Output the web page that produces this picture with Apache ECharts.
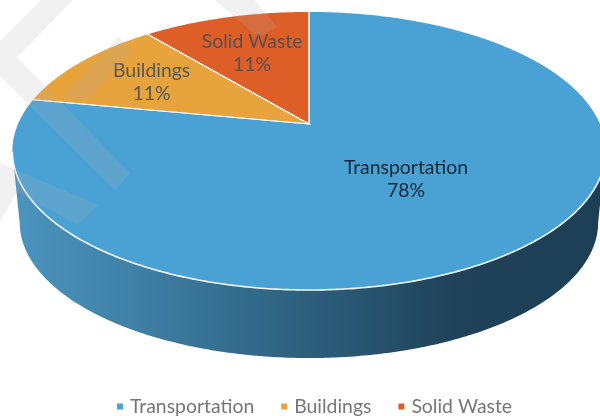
<!DOCTYPE html>
<html>
<head>
<meta charset="utf-8">
<style>html,body{margin:0;padding:0;background:#fff}#chart{width:600px;height:416px}</style>
<script src="https://cdn.jsdelivr.net/npm/echarts@6/dist/echarts.min.js"></script>
</head>
<body>
<div id="chart"></div>
<script>
// Emissions share by sector, drawn as a tilted disc
const categories = ['Transportation', 'Buildings', 'Solid Waste'];
const shares = [78, 11, 11];
const sliceColors = ['#4AA2D4', '#E7A33C', '#DE5E28'];
const labelColors = ['#14283A', '#5B5750', '#5B4F4E'];
// how far along the radius each slice's label sits
const labelReach = [0.485, 0.67, 0.645];

// Perspective projection of the unit disc onto the page
const disc = { x: 309, y: 124, wide: 291, tall: 133.8, tilt: 0.194 };
const rimDepth = { drop: 68, shrink: 0.975, midX: 306, midY: 151 };

function project(angle, reach) {
  const u = Math.sin(angle) * reach;
  const v = Math.cos(angle) * reach;
  const d = 1 + disc.tilt * v;
  return [disc.x + disc.wide * u / d, disc.y - disc.tall * v / d];
}
function lower(p) {
  return [
    rimDepth.midX + (p[0] - rimDepth.midX) * rimDepth.shrink,
    rimDepth.midY + rimDepth.drop + (p[1] - rimDepth.midY) * rimDepth.shrink + 3.5
  ];
}
function arcPoints(a0, a1) {
  const n = Math.max(2, Math.ceil((a1 - a0) / 0.01));
  const pts = [];
  for (let i = 0; i <= n; i++) pts.push(project(a0 + (a1 - a0) * i / n, 1));
  return pts;
}
const total = shares.reduce((a, b) => a + b, 0);

const sideFill = new echarts.graphic.LinearGradient(12, 0, 600, 0, [
  { offset: 0, color: '#4C95BF' },
  { offset: 0.2, color: '#3F81A7' },
  { offset: 0.4, color: '#336A8A' },
  { offset: 0.6, color: '#285470' },
  { offset: 0.75, color: '#1F4259' },
  { offset: 1, color: '#1D3F55' }
], true);

function renderSlice(idx) {
  return function (params, api) {
    const value = api.value(0);
    let before = 0;
    for (let i = 0; i < idx; i++) before += shares[i];
    const a0 = before / total * Math.PI * 2;
    const a1 = (before + value) / total * Math.PI * 2;
    const rim = arcPoints(a0, a1);
    const children = [];

    // wall below the part of the rim that faces the viewer
    const front = rim.filter(p => p[1] >= rimDepth.midY);
    if (front.length > 1) {
      const wall = front.concat(front.slice().reverse().map(lower));
      children.push({ type: 'polygon', shape: { points: wall }, style: { fill: sideFill } });
      children.push({
        type: 'polyline', shape: { points: front },
        style: { fill: null, stroke: '#F2F6F8', lineWidth: 1.6 }, z2: 3
      });
    }

    const apex = project(0, 0);
    children.push({
      type: 'polygon', shape: { points: [apex].concat(rim) },
      style: { fill: sliceColors[idx], stroke: 'none' }, z2: 1
    });
    children.push({
      type: 'polyline', shape: { points: [rim[rim.length - 1], apex, rim[0]] },
      style: { fill: null, stroke: '#EEF3F5', lineWidth: 1.1 }, z2: 2
    });

    const mid = project((a0 + a1) / 2, labelReach[idx]);
    children.push({
      type: 'text', z2: 5,
      style: {
        x: mid[0], y: mid[1] + 1.5, text: categories[idx] + '\n' + value + '%',
        fill: labelColors[idx], fontFamily: 'Lato', fontSize: 19.4, lineHeight: 23,
        align: 'center', verticalAlign: 'middle'
      }
    });
    return { type: 'group', children };
  };
}

// Pale diagonal bands laid over the whole picture
const bandStyle = { fill: 'rgba(175,175,175,0.18)' };
const bands = [
  [[0, 41], [41, 0], [73, 0], [17, 57], [130, 173], [115, 190], [0, 76]],
  [[0, 163], [98, 205], [78, 225], [17, 192], [0, 222]],
  [[215, 0], [255, 0], [277, 27], [258, 37]],
  [[118, 37], [133, 50], [87, 100], [62, 97]]
];

const chart = echarts.init(document.getElementById('chart'), null, { renderer: 'canvas' });
chart.setOption({
  animation: false,
  backgroundColor: '#fff',
  legend: {
    data: categories,
    left: 112,
    top: 392,
    icon: 'rect',
    itemWidth: 6,
    itemHeight: 6,
    itemGap: 27,
    selectedMode: false,
    textStyle: { color: '#767676', fontFamily: 'Lato', fontSize: 19.4, padding: [0, 0, 0, 2] }
  },
  graphic: bands.map(points => ({
    type: 'polygon', z: 100, silent: true, shape: { points }, style: bandStyle
  })),
  series: categories.map((name, i) => ({
    type: 'custom',
    name,
    coordinateSystem: 'none',
    silent: true,
    itemStyle: { color: sliceColors[i] },
    renderItem: renderSlice(i),
    encode: { value: 0 },
    data: [[shares[i]]]
  }))
});
</script>
</body>
</html>
